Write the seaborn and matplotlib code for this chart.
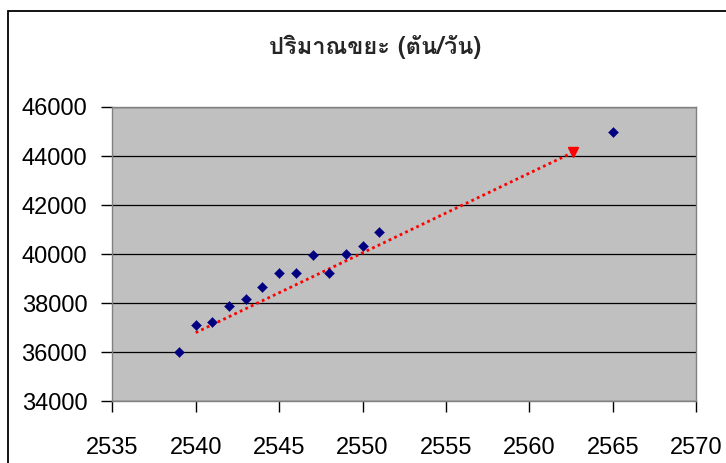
import matplotlib
matplotlib.use("Agg")
import matplotlib.pyplot as plt
from matplotlib import font_manager
from matplotlib.ft2font import FT2Font
from matplotlib.patches import Rectangle
import seaborn as sns
import pandas as pd

# Daily solid waste (tonnes/day) by Buddhist-era year
years = [2539, 2540, 2541, 2542, 2543, 2544, 2545, 2546, 2547, 2548, 2549, 2550, 2551, 2565]
tonnes = [36000, 37130, 37250, 37880, 38180, 38640, 39240, 39240, 39960, 39240, 40000, 40340, 40920, 45000]

# Hand-drawn trend arrow (start and end)
trend_x = [2540, 2562.6]
trend_y = [36800, 44150]

title_text = "ปริมาณขยะ (ตัน/วัน)"
x_ticks = [2535, 2540, 2545, 2550, 2555, 2560, 2565, 2570]
y_ticks = [34000, 36000, 38000, 40000, 42000, 44000, 46000]


def find_thai_family():
    for f in font_manager.fontManager.ttflist:
        try:
            cmap = FT2Font(f.fname).get_charmap()
        except Exception:
            continue
        if 0x0E1B in cmap and 0x0E13 in cmap and 0x0E30 in cmap:
            return f.name
    return None


sns.set_style("white")
plt.rcParams["font.family"] = ["Liberation Sans", "DejaVu Sans"]
thai = find_thai_family()
title_family = [thai, "DejaVu Sans"] if thai else ["DejaVu Sans"]

df = pd.DataFrame({"year": years, "tonnes": tonnes})

fig = plt.figure(figsize=(7.26, 4.63), dpi=100)
ax = fig.add_axes([0.1547, 0.1333, 0.8044, 0.6356])
ax.set_facecolor("#C0C0C0")

sns.scatterplot(data=df, x="year", y="tonnes", ax=ax, marker="D", s=26,
                color="#000080", edgecolor="#000080", linewidth=0.3, zorder=4)

sns.lineplot(x=trend_x, y=trend_y, ax=ax, color="#FF0000", linestyle=(0, (1, 1.2)),
             linewidth=2.0, zorder=3)
ax.plot(trend_x[-1], trend_y[-1], marker="v", markersize=6.5, color="#FF0000",
        linestyle="none", zorder=3)

ax.set_xlim(2535, 2570)
ax.set_ylim(34000, 46000)
ax.set_xticks(x_ticks)
ax.set_yticks(y_ticks)
ax.set_xlabel("")
ax.set_ylabel("")
ax.yaxis.grid(True, color="black", linewidth=0.9)
ax.xaxis.grid(False)
ax.set_axisbelow(True)
for side in ["top", "right", "bottom", "left"]:
    ax.spines[side].set_color("#808080")
    ax.spines[side].set_linewidth(1.0)

ax.tick_params(axis="both", direction="out", length=8, width=1.0, color="black",
               labelsize=17, labelcolor="black")
ax.tick_params(axis="x", pad=18)
ax.tick_params(axis="y", pad=10)
ax.tick_params(left=True, bottom=True)

fig.text(0.5165, 0.898, title_text, ha="center", va="center", fontsize=17,
         fontweight="bold", family=title_family)

# chart-area frame, open towards the right and bottom edges
fig.add_artist(Rectangle((8 / 726, -0.5), 2.0, 1.5 - 11 / 463 + 0.0, transform=fig.transFigure,
                         fill=False, edgecolor="black", linewidth=1.3))

fig.savefig("out.png", dpi=100)
